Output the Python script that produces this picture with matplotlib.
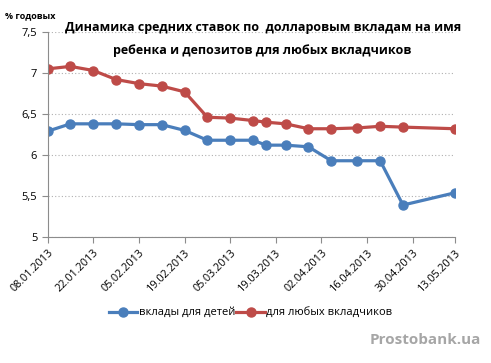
import matplotlib.pyplot as plt
import matplotlib.dates as mdates
import numpy as np
from datetime import datetime

plt.rcParams['font.family'] = ['Open Sans', 'DejaVu Sans']

# даты наблюдений
dates = ["08.01.2013", "15.01.2013", "22.01.2013", "29.01.2013", "05.02.2013",
         "12.02.2013", "19.02.2013", "26.02.2013", "05.03.2013", "12.03.2013",
         "16.03.2013", "22.03.2013", "29.03.2013", "05.04.2013", "13.04.2013",
         "20.04.2013", "27.04.2013", "13.05.2013"]
kids = [6.29, 6.38, 6.38, 6.38, 6.37, 6.37, 6.30, 6.18, 6.18, 6.18,
        6.12, 6.12, 6.10, 5.93, 5.93, 5.93, 5.39, 5.54]
anyone = [7.05, 7.08, 7.03, 6.92, 6.87, 6.84, 6.77, 6.46, 6.45, 6.42,
          6.40, 6.38, 6.32, 6.32, 6.33, 6.35, 6.34, 6.32]
tick_dates = ["08.01.2013", "22.01.2013", "05.02.2013", "19.02.2013", "05.03.2013",
              "19.03.2013", "02.04.2013", "16.04.2013", "30.04.2013", "13.05.2013"]
y_ticks = [5, 5.5, 6, 6.5, 7, 7.5]

x = [datetime.strptime(d, "%d.%m.%Y") for d in dates]
xt = [datetime.strptime(d, "%d.%m.%Y") for d in tick_dates]

fig = plt.figure(figsize=(4.91, 3.63), dpi=100)
ax = fig.add_axes([0.097, 0.347, 0.83, 0.565])

blue = "#4A7EBB"
red = "#BE4B48"
ax.plot(x, kids, color=blue, lw=2.3, marker="o", ms=6.5, label="вклады для детей")
ax.plot(x, anyone, color=red, lw=2.3, marker="o", ms=6.5, label="для любых вкладчиков")

ax.set_ylim(5, 7.5)
ax.set_xlim(xt[0], xt[-1])
ax.set_yticks(y_ticks)
ax.set_yticklabels([("%g" % v).replace(".", ",") for v in y_ticks], fontsize=8)
ax.set_xticks(xt)
ax.set_xticklabels(tick_dates, rotation=45, ha="right", rotation_mode="anchor", fontsize=7.8)

ax.grid(axis="y", color="#b0b0b0", linestyle=(0, (1, 2)), linewidth=0.8)
for s in ["top", "right"]:
    ax.spines[s].set_visible(False)
for s in ["left", "bottom"]:
    ax.spines[s].set_color("#8c8c8c")
ax.tick_params(axis="both", colors="#8c8c8c", labelcolor="black", length=4, width=0.8)
ax.set_axisbelow(True)

fig.text(0.535, 0.892, "Динамика средних ставок по  долларовым вкладам на имя\nребенка и депозитов для любых вкладчиков",
         ha="center", va="center", fontsize=9, fontweight="bold", linespacing=2.05)
fig.text(0.01, 0.956, "% годовых", fontsize=6.5, fontweight="bold", va="center")

fig.legend(loc="center", bbox_to_anchor=(0.51, 0.138), ncol=2, frameon=False,
           fontsize=8, handlelength=2.6, columnspacing=0.1, handletextpad=0.1)

fig.text(0.98, 0.063, "Prostobank.ua", ha="right", va="center", fontsize=11,
         fontweight="bold", color="#a6a6a6")

fig.savefig("out.png", dpi=100)
